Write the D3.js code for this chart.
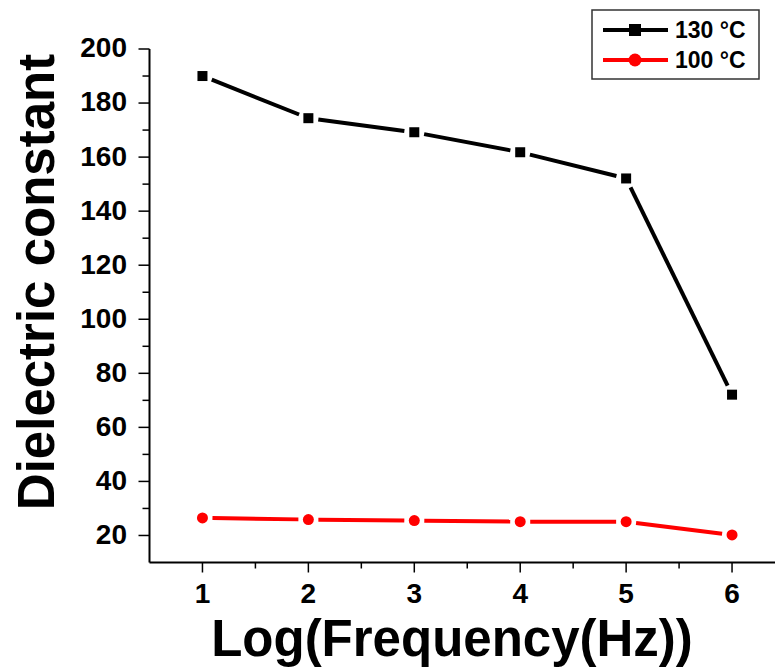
<!DOCTYPE html>
<html>
<head>
<meta charset="utf-8">
<script src="https://cdn.jsdelivr.net/npm/d3@7"></script>
<style>
  html, body { margin: 0; padding: 0; background: #fff; }
  svg { display: block; font-family: "Liberation Sans", Arial, sans-serif; }
</style>
</head>
<body>
<svg id="chart" width="775" height="668"></svg>
<script>
// Log of frequency (Hz) at each measurement point
const logFreq = [1, 2, 3, 4, 5, 6];
// Dielectric constant measured at 130 °C and 100 °C
const eps130 = [190, 174.4, 169.2, 161.8, 152.1, 72.1];
const eps100 = [26.5, 25.9, 25.5, 25.1, 25.1, 20.2];

const seriesNames = ["130 °C", "100 °C"];
const seriesColors = ["#000000", "#ff0000"];
const seriesShapes = ["square", "circle"];

const xTicks = [1, 2, 3, 4, 5, 6];
const yTicks = [20, 40, 60, 80, 100, 120, 140, 160, 180, 200];

const svg = d3.select("#chart");

const x = d3.scaleLinear().domain([0.5, 6.5]).range([149.5, 785]);
const y = d3.scaleLinear().domain([10, 200]).range([562.5, 49]);

// Axes: major ticks labelled, minor ticks in between
const xAxis = svg.append("g").attr("transform", `translate(0,${y(10)})`);
xAxis.append("line").attr("x1", x(0.5)).attr("x2", x(6.5))
  .attr("stroke", "#000").attr("stroke-width", 2);
const xMinor = d3.range(0.5, 6.6, 0.5).filter(v => !xTicks.includes(v) && v > 0.5);
xAxis.selectAll(".xminor").data(xMinor).join("line")
  .attr("x1", d => x(d)).attr("x2", d => x(d)).attr("y1", 0).attr("y2", 6)
  .attr("stroke", "#000").attr("stroke-width", 1.5);
xAxis.selectAll(".xmajor").data(xTicks).join("line")
  .attr("x1", d => x(d)).attr("x2", d => x(d)).attr("y1", 0).attr("y2", 10)
  .attr("stroke", "#000").attr("stroke-width", 1.5);
xAxis.selectAll(".xlab").data(xTicks).join("text")
  .attr("x", d => x(d)).attr("y", 40.5)
  .attr("text-anchor", "middle").attr("font-size", 28).attr("font-weight", "bold")
  .text(d => d);

const yAxis = svg.append("g").attr("transform", `translate(${x(0.5)},0)`);
yAxis.append("line").attr("y1", y(10)).attr("y2", y(200))
  .attr("stroke", "#000").attr("stroke-width", 2);
const yMinor = d3.range(30, 200, 20);
yAxis.selectAll(".yminor").data(yMinor).join("line")
  .attr("y1", d => y(d)).attr("y2", d => y(d)).attr("x1", 0).attr("x2", -7)
  .attr("stroke", "#000").attr("stroke-width", 1.5);
yAxis.selectAll(".ymajor").data(yTicks).join("line")
  .attr("y1", d => y(d)).attr("y2", d => y(d)).attr("x1", 0).attr("x2", -11)
  .attr("stroke", "#000").attr("stroke-width", 1.5);
yAxis.selectAll(".ylab").data(yTicks).join("text")
  .attr("x", -22.5).attr("y", d => y(d)).attr("dy", "0.3em")
  .attr("text-anchor", "end").attr("font-size", 28).attr("font-weight", "bold")
  .text(d => d);

// Axis titles
svg.append("text")
  .attr("x", 452).attr("y", 656)
  .attr("text-anchor", "middle").attr("font-size", 51).attr("font-weight", "bold")
  .text("Log(Frequency(Hz))");
svg.append("text")
  .attr("transform", "translate(54,282) rotate(-90)")
  .attr("text-anchor", "middle").attr("font-size", 51).attr("font-weight", "bold")
  .text("Dielectric constant");

// Series: line segments stop short of each marker
const gap = 10;
function drawSeries(values, color, shape) {
  const pts = logFreq.map((f, i) => [x(f), y(values[i])]);
  const g = svg.append("g");
  for (let i = 0; i < pts.length - 1; i++) {
    const [x0, y0] = pts[i], [x1, y1] = pts[i + 1];
    const len = Math.hypot(x1 - x0, y1 - y0);
    const ux = (x1 - x0) / len, uy = (y1 - y0) / len;
    g.append("line")
      .attr("x1", x0 + ux * gap).attr("y1", y0 + uy * gap)
      .attr("x2", x1 - ux * gap).attr("y2", y1 - uy * gap)
      .attr("stroke", color).attr("stroke-width", 4);
  }
  if (shape === "square") {
    g.selectAll("rect").data(pts).join("rect")
      .attr("x", d => d[0] - 5).attr("y", d => d[1] - 5)
      .attr("width", 10).attr("height", 10).attr("fill", color);
  } else {
    g.selectAll("circle").data(pts).join("circle")
      .attr("cx", d => d[0]).attr("cy", d => d[1]).attr("r", 5.5).attr("fill", color);
  }
}
drawSeries(eps130, seriesColors[0], seriesShapes[0]);
drawSeries(eps100, seriesColors[1], seriesShapes[1]);

// Legend
const legend = svg.append("g");
legend.append("rect").attr("x", 592).attr("y", 10).attr("width", 167).attr("height", 69)
  .attr("fill", "#fff").attr("stroke", "#333").attr("stroke-width", 1.5);
seriesNames.forEach((name, i) => {
  const cy = 30 + i * 30;
  legend.append("line").attr("x1", 603).attr("x2", 668).attr("y1", cy).attr("y2", cy)
    .attr("stroke", seriesColors[i]).attr("stroke-width", 4);
  if (seriesShapes[i] === "square") {
    legend.append("rect").attr("x", 635 - 6).attr("y", cy - 6).attr("width", 12).attr("height", 12)
      .attr("fill", seriesColors[i]);
  } else {
    legend.append("circle").attr("cx", 635).attr("cy", cy).attr("r", 6.5).attr("fill", seriesColors[i]);
  }
  legend.append("text").attr("x", 675).attr("y", cy).attr("dy", "0.36em")
    .attr("font-size", 23).attr("font-weight", "bold").text(name);
});
</script>
</body>
</html>
